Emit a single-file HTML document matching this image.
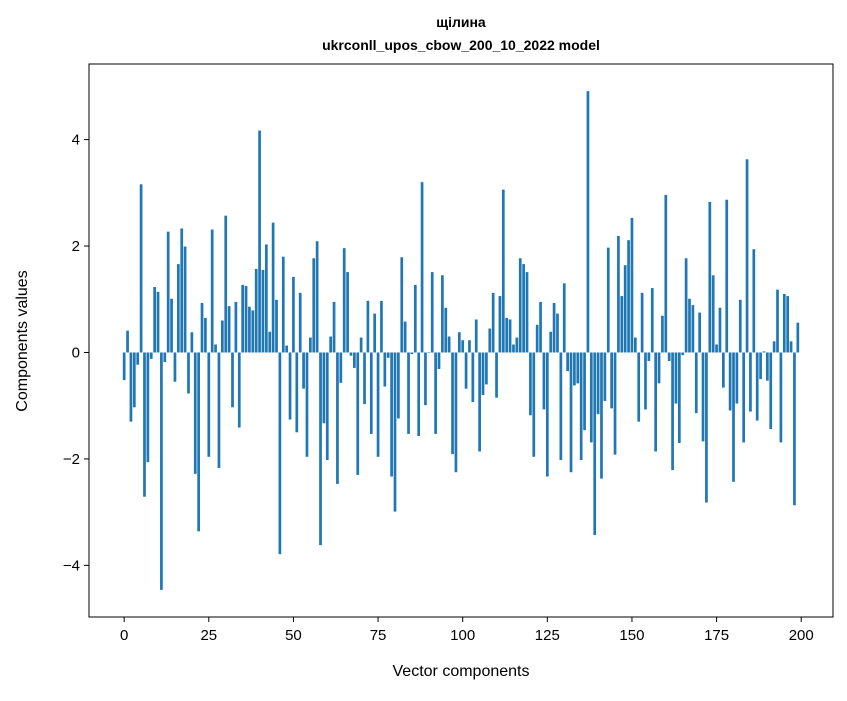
<!DOCTYPE html>
<html><head><meta charset="utf-8"><style>
body{margin:0;background:#fff;}
svg text{font-family:"Liberation Sans","DejaVu Sans",sans-serif;fill:#000;}
</style></head><body>
<svg id="chart" width="847" height="696" xmlns="http://www.w3.org/2000/svg">
<rect width="847" height="696" fill="#fff"/>
<text x="461" y="27" text-anchor="middle" font-size="14" font-weight="bold">щілина</text>
<text x="461" y="50" text-anchor="middle" font-size="14" font-weight="bold">ukrconll_upos_cbow_200_10_2022 model</text>
<g id="bars"></g>
<g id="axes"></g>
<text x="461" y="676" text-anchor="middle" font-size="16">Vector components</text>
<text transform="translate(27,341) rotate(-90)" text-anchor="middle" font-size="16">Components values</text>
</svg>
<script>
const values = [-0.52,0.41,-1.30,-1.03,-0.23,3.16,-2.71,-2.06,-0.12,1.23,1.14,-4.46,-0.18,2.27,1.01,-0.55,1.66,2.33,1.99,-0.77,0.38,-2.28,-3.36,0.93,0.65,-1.96,2.31,0.15,-2.17,0.60,2.57,0.87,-1.03,0.95,-1.41,1.27,1.25,0.86,0.79,1.57,4.17,1.55,2.03,0.39,2.44,0.99,-3.79,1.80,0.13,-1.26,
1.42,-1.50,1.12,-0.68,-1.96,0.28,1.77,2.09,-3.62,-1.33,-2.02,0.30,0.95,-2.47,-0.57,1.96,1.51,-0.06,-0.29,-2.30,0.28,-0.97,0.97,-1.53,0.73,-1.96,0.97,-0.64,-0.10,-2.33,-2.99,-1.24,1.79,0.58,-1.53,-0.03,1.27,-1.57,3.20,-0.99,-0.01,1.51,-1.53,-0.31,1.45,0.84,0.30,-1.91,-2.25,0.38,
0.23,-0.68,0.23,-0.93,0.62,-1.86,-0.80,-0.60,0.45,1.12,-0.85,1.06,3.06,0.65,0.62,0.15,0.28,1.77,1.66,1.51,-1.18,-1.96,0.52,0.95,-1.07,-2.33,0.39,0.93,0.73,-2.02,1.30,-0.35,-2.25,-0.62,-0.58,-2.02,-1.46,4.91,-1.69,-3.43,-1.16,-2.37,-0.91,1.97,-1.05,-1.92,2.19,1.06,1.64,2.11,
2.53,0.28,-1.30,1.12,-1.07,-0.16,1.21,-1.86,-0.58,0.69,2.96,-0.16,-2.21,-0.96,-1.70,-0.05,1.77,1.01,0.89,-1.14,0.75,-1.67,-2.82,2.83,1.45,0.15,0.84,-0.66,2.87,-1.09,-2.43,-0.96,0.99,-1.69,3.63,-1.11,1.94,-1.28,-0.50,0.02,-0.53,-1.44,0.21,1.18,-1.69,1.10,1.06,0.21,-2.87,0.56];
const xTicks = [0,25,50,75,100,125,150,175,200];
const yTicks = [-4,-2,0,2,4];
const yTickLabels = ["\u22124","\u22122","0","2","4"];

const L=89,R=833,T=64,B=617;
const xMin=-10.39,xMax=209.39,yMin=-4.97,yMax=5.42;
const sx=v=>L+(v-xMin)/(xMax-xMin)*(R-L);
const sy=v=>T+(yMax-v)/(yMax-yMin)*(B-T);
const NS="http://www.w3.org/2000/svg";
const bars=document.getElementById('bars');
values.forEach((v,i)=>{
  const r=document.createElementNS(NS,'rect');
  const x0=sx(i-0.4),x1=sx(i+0.4);
  const y0=sy(Math.max(v,0)),y1=sy(Math.min(v,0));
  r.setAttribute('x',x0);r.setAttribute('width',x1-x0);
  r.setAttribute('y',y0);r.setAttribute('height',Math.max(y1-y0,0.01));
  r.setAttribute('fill','#1f77b4');
  
  
  bars.appendChild(r);
});
const axes=document.getElementById('axes');
const frame=document.createElementNS(NS,'rect');
frame.setAttribute('x',L);frame.setAttribute('y',T);frame.setAttribute('width',R-L);frame.setAttribute('height',B-T);
frame.setAttribute('fill','none');frame.setAttribute('stroke','#000');frame.setAttribute('stroke-width','1');


axes.appendChild(frame);
xTicks.forEach(t=>{
  const x=sx(t);
  const ln=document.createElementNS(NS,'line');
  ln.setAttribute('x1',x);ln.setAttribute('x2',x);ln.setAttribute('y1',B);ln.setAttribute('y2',B+5);ln.setAttribute('stroke','#000');
  
  
  axes.appendChild(ln);
  const tx=document.createElementNS(NS,'text');
  tx.setAttribute('x',x);tx.setAttribute('y',B+23);tx.setAttribute('text-anchor','middle');tx.setAttribute('font-size','15');
  tx.textContent=t;
  
  
  axes.appendChild(tx);
});
yTicks.forEach((t,k)=>{
  const y=sy(t);
  const ln=document.createElementNS(NS,'line');
  ln.setAttribute('x1',L-5);ln.setAttribute('x2',L);ln.setAttribute('y1',y);ln.setAttribute('y2',y);ln.setAttribute('stroke','#000');
  
  
  axes.appendChild(ln);
  const tx=document.createElementNS(NS,'text');
  tx.setAttribute('x',L-9);tx.setAttribute('y',y+5);tx.setAttribute('text-anchor','end');tx.setAttribute('font-size','15');
  tx.textContent=yTickLabels[k];
  
  
  axes.appendChild(tx);
});
</script>
</body></html>
